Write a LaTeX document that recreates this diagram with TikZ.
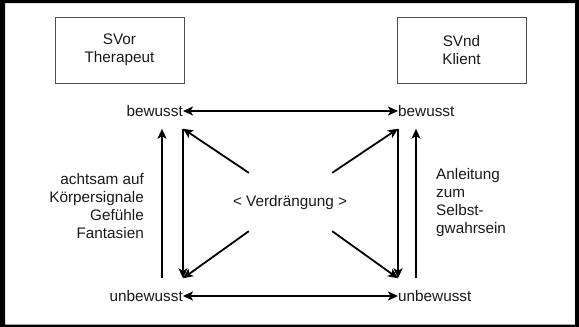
\documentclass[tikz,border=0pt]{standalone}
\usepackage{fontspec}
\setmainfont{Liberation Sans}
\usetikzlibrary{arrows.meta}
\begin{document}
\begin{tikzpicture}[x=1pt,y=-1pt,
  every node/.style={font=\fontsize{15.3}{18}\selectfont, text=black!90},
  rolebox/.style={draw=black!70, line width=0.8pt, minimum width=129pt, minimum height=66pt, align=center, inner sep=0pt},
  state/.style={inner xsep=0pt, inner ysep=12pt, text height=11pt, text depth=0pt},
  link/.style={line width=1.8pt, -{Stealth[length=10pt,width=9pt,inset=2.5pt]}},
  twoway/.style={line width=1.8pt, {Stealth[length=10pt,width=9pt,inset=2.5pt]}-{Stealth[length=10pt,width=9pt,inset=2.5pt]}},
  note/.style={inner sep=0pt}
]
\useasboundingbox (0,0) rectangle (579,327);
% outer frame
\fill[black, even odd rule] (0,0) rectangle (579,327) (5,3) rectangle (575,324.5);

% roles
\node[rolebox] (ther) at (119.5,50) {SVor\\Therapeut};
\node[rolebox] (kli) at (461.5,50) {SVnd\\Klient};

% states
\node[state, anchor=east] (bl) at (183,111) {bewusst};
\node[state, anchor=west] (br) at (398,111) {bewusst};
\node[state, anchor=east] (ul) at (183,296) {unbewusst};
\node[state, anchor=west] (ur) at (398,296) {unbewusst};

% centre
\node[minimum width=83pt, minimum height=58pt, inner sep=0pt] (core) at (290.5,202) {};
\node (vd) at (290,203) {< Verdrängung >};

% side notes
\node[note, align=right, anchor=east] (lt) at (144,206) {achtsam auf\\Körpersignale\\Gefühle\\Fantasien};
\node[note, align=left, anchor=west] (rt) at (436,203) {Anleitung\\zum\\Selbst-\\gwahrsein};

% connectors
\draw[twoway] (bl.east) -- (br.west);
\draw[twoway] (ul.east) -- (ur.west);
\draw[link] (bl.south east) -- (ul.north east);
\draw[link] ([xshift=-21pt]ul.north east) -- ([xshift=-21pt]bl.south east);
\draw[link] (br.south west) -- (ur.north west);
\draw[link] ([xshift=18pt]ur.north west) -- ([xshift=18pt]br.south west);
\draw[link] (core.north west) -- (bl.south east);
\draw[link] (core.north east) -- (br.south west);
\draw[link] (core.south west) -- (ul.north east);
\draw[link] (core.south east) -- (ur.north west);
\end{tikzpicture}
\end{document}
